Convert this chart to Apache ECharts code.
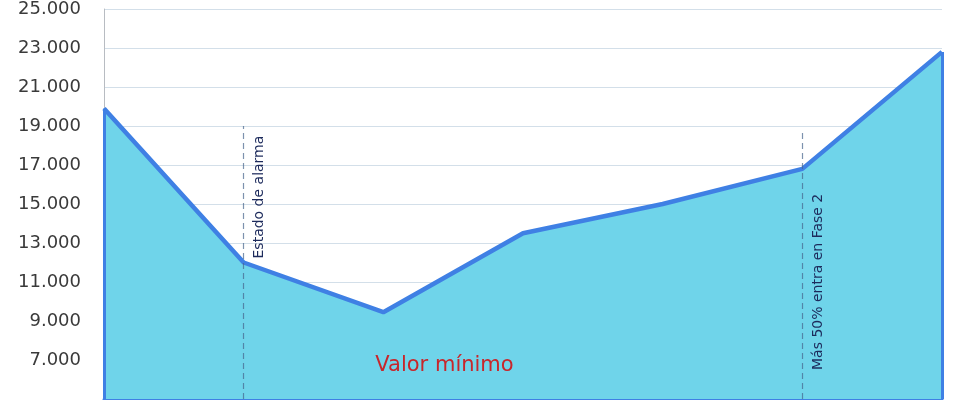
<!DOCTYPE html>
<html>
<head>
<meta charset="utf-8">
<script src="https://cdn.jsdelivr.net/npm/echarts@6/dist/echarts.min.js"></script>
<style>
html,body{margin:0;padding:0;background:#fff;}
#c{width:978px;height:400px;}
</style>
</head>
<body>
<div id="c"></div>
<script>
// ---- data ----
var categories = ['P1', 'P2', 'P3', 'P4', 'P5', 'P6', 'P7'];
var values = [19900, 12000, 9450, 13500, 15000, 16800, 22800];
var yTicks = { min: 5000, max: 25000, interval: 2000 };
var eventCategories = ['P2', 'P6'];
var eventTops = [19000, 18800];
var eventLabels = ['Estado de alarma', 'Más 50% entra en Fase 2'];
var minLabel = 'Valor mínimo';

function fmt(v) {
  return String(v).replace(/\B(?=(\d{3})+(?!\d))/g, '.');
}

var chart = echarts.init(document.getElementById('c'));

var markData = [
  [{ coord: [categories[0], yTicks.min] }, { coord: [categories[0], values[0]] }],
  [{ coord: [categories[categories.length - 1], yTicks.min] }, { coord: [categories[categories.length - 1], values[values.length - 1]] }]
];
markData.forEach(function (d) {
  d[0].lineStyle = { color: '#3f80e4', width: 3, type: 'solid' };
});
eventCategories.forEach(function (c, i) {
  markData.push([
    { coord: [c, yTicks.min], lineStyle: { color: 'rgba(70,100,140,0.7)', width: 1.2, type: [6, 4] } },
    { coord: [c, eventTops[i]] }
  ]);
});

chart.setOption({
  animation: false,
  grid: { left: 104, right: 36, top: 5, bottom: 1, containLabel: false },
  xAxis: {
    type: 'category',
    data: categories,
    boundaryGap: false,
    axisLine: { show: true, lineStyle: { color: '#3f80e4', width: 3 } },
    axisTick: { show: false },
    axisLabel: { show: false },
    splitLine: { show: false }
  },
  yAxis: {
    type: 'value',
    min: yTicks.min,
    max: yTicks.max,
    interval: yTicks.interval,
    axisLine: { show: true, lineStyle: { color: '#b8bcc2', width: 1 } },
    axisTick: { show: false },
    splitLine: { show: true, lineStyle: { color: '#d3dfe9', width: 1 } },
    axisLabel: {
      showMinLabel: false,
      margin: 23,
      color: '#3a3a3a',
      fontFamily: 'DejaVu Sans',
      fontSize: 18,
      formatter: function (v) { return fmt(v); }
    }
  },
  series: [{
    type: 'line',
    data: values,
    symbol: 'none',
    lineStyle: { color: '#3f80e4', width: 4.5 },
    areaStyle: { color: '#6fd4ea', opacity: 1 },
    z: 2,
    markLine: {
      silent: true,
      symbol: 'none',
      label: { show: false },
      data: markData
    }
  }]
});

function px(cat, val) {
  return chart.convertToPixel({ gridIndex: 0 }, [cat, val]);
}

var g = [];
eventCategories.forEach(function (c, i) {
  var p = px(c, values[categories.indexOf(c)]);
  var base = px(c, yTicks.min);
  var startY = (i === 0) ? p[1] - 4 : base[1] - 29;
  g.push({
    type: 'text',
    x: p[0] + 16,
    y: startY,
    rotation: Math.PI / 2,
    style: {
      text: eventLabels[i],
      fill: '#1d2b5c',
      font: '14px "DejaVu Sans"',
      align: 'left',
      verticalAlign: 'middle'
    },
    z: 100
  });
});
var mp = px(categories[2], values[2]);
var bp = px(categories[2], yTicks.min);
g.push({
  type: 'text',
  x: mp[0] - 8,
  y: bp[1] - 33,
  style: {
    text: minLabel,
    fill: '#c8262b',
    font: '21px "DejaVu Sans"',
    align: 'left',
    verticalAlign: 'middle'
  },
  z: 100
});
chart.setOption({ graphic: g });
</script>
</body>
</html>
